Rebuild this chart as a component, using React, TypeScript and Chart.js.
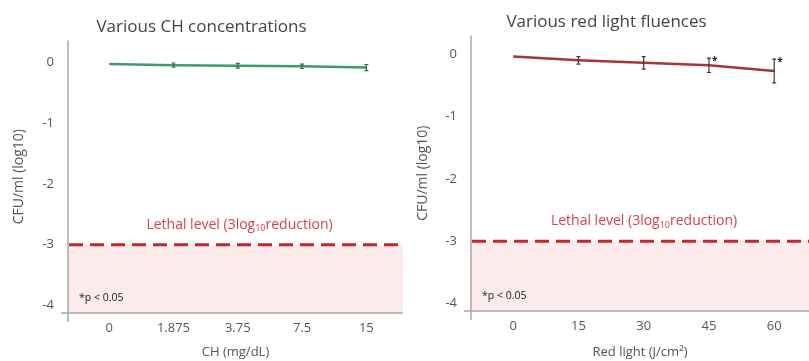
import React, { useEffect, useRef } from 'react';
import { Chart, registerables } from 'chart.js';

Chart.register(...registerables);

// ---- data ----
const chCategories = ['0', '1.875', '3.75', '7.5', '15'];
const chValues = [-0.03, -0.05, -0.06, -0.07, -0.09];
const chErrors = [0, 0.035, 0.04, 0.035, 0.05];
const chSignificant = [false, false, false, false, false];

const lightFluences = [0, 15, 30, 45, 60];
const lightValues = [-0.04, -0.1, -0.14, -0.18, -0.27];
const lightErrors = [0, 0.06, 0.1, 0.115, 0.19];
const lightSignificant = [false, false, false, true, true];

const lethalLevel = -3;
const lethalLabel = ['Lethal level (3log', '10', 'reduction)'];
const pValueNote = '*p < 0.05';
const yAxisTitle = 'CFU/ml (log10)';

const FONT = "'Open Sans', 'DejaVu Sans', sans-serif";

type Cfg = {
  xs: number[];
  ys: number[];
  errs: number[];
  sig: boolean[];
  color: string;
  barColor: string;
  title: string;
  titlePad: { top: number; bottom: number };
  xTitle: string;
  xMin: number;
  xMax: number;
  xStep: number;
  xLabel: (v: number) => string;
  yMin: number;
  yMax: number;
  yAxisWidth: number;
  xAxisHeight: number;
  padRight: number;
};

function makeChart(canvas: HTMLCanvasElement, cfg: Cfg) {
  const decor = {
    id: 'decor',
    beforeDatasetsDraw(chart: any) {
      const { ctx, chartArea: a, scales } = chart;
      const y = scales.y;
      const yl = y.getPixelForValue(lethalLevel);
      ctx.save();
      // pink lethal zone
      ctx.fillStyle = '#fdeaea';
      ctx.fillRect(a.left, yl, a.right - a.left, a.bottom - yl);
      // axes
      ctx.strokeStyle = '#a8a8a8';
      ctx.lineWidth = 1.5;
      ctx.beginPath();
      ctx.moveTo(a.left, a.top);
      ctx.lineTo(a.left, a.bottom + 9);
      ctx.moveTo(a.left - 7, a.bottom);
      ctx.lineTo(a.right, a.bottom);
      ctx.stroke();
      // dashed lethal line
      ctx.strokeStyle = '#c4262e';
      ctx.lineWidth = 3;
      ctx.setLineDash([14, 7]);
      ctx.beginPath();
      ctx.moveTo(a.left + 1, yl);
      ctx.lineTo(a.right, yl);
      ctx.stroke();
      ctx.setLineDash([]);
      // lethal label
      ctx.fillStyle = '#d4414c';
      ctx.textBaseline = 'middle';
      ctx.textAlign = 'left';
      const mainFont = `14px ${FONT}`;
      const subFont = `9px ${FONT}`;
      ctx.font = mainFont;
      const w0 = ctx.measureText(lethalLabel[0]).width;
      const w2 = ctx.measureText(lethalLabel[2]).width;
      ctx.font = subFont;
      const w1 = ctx.measureText(lethalLabel[1]).width;
      const total = w0 + w1 + w2;
      let x = (a.left + a.right) / 2 + 4 - total / 2;
      const ty = yl - 20;
      ctx.font = mainFont;
      ctx.fillText(lethalLabel[0], x, ty);
      x += w0;
      ctx.font = subFont;
      ctx.fillText(lethalLabel[1], x, ty + 4);
      x += w1;
      ctx.font = mainFont;
      ctx.fillText(lethalLabel[2], x, ty);
      // p-value note
      ctx.fillStyle = '#222';
      ctx.font = `10.5px ${FONT}`;
      ctx.fillText(pValueNote, a.left + 11, a.bottom - 15);
      ctx.restore();
    },
    afterDatasetsDraw(chart: any) {
      const { ctx, scales } = chart;
      const xs = scales.x;
      const y = scales.y;
      ctx.save();
      ctx.strokeStyle = cfg.barColor;
      ctx.lineWidth = 1.2;
      cfg.xs.forEach((xv, i) => {
        const e = cfg.errs[i];
        const px = xs.getPixelForValue(xv);
        const top = y.getPixelForValue(cfg.ys[i] + e);
        const bot = y.getPixelForValue(cfg.ys[i] - e);
        if (e > 0) {
          ctx.beginPath();
          ctx.moveTo(px, top);
          ctx.lineTo(px, bot);
          ctx.moveTo(px - 2, top);
          ctx.lineTo(px + 2, top);
          ctx.moveTo(px - 2, bot);
          ctx.lineTo(px + 2, bot);
          ctx.stroke();
        }
        if (cfg.sig[i]) {
          ctx.fillStyle = '#222';
          ctx.font = `bold 10px ${FONT}`;
          ctx.textAlign = 'left';
          ctx.textBaseline = 'middle';
          ctx.fillText('*', px + 3, top + 3);
        }
      });
      ctx.restore();
    },
  };

  return new Chart(canvas, {
    type: 'line',
    data: {
      datasets: [
        {
          data: cfg.xs.map((x, i) => ({ x, y: cfg.ys[i] })),
          borderColor: cfg.color,
          borderWidth: 2.5,
          pointRadius: 0,
          tension: 0,
          fill: false,
        },
      ],
    },
    options: {
      responsive: false,
      animation: false,
      devicePixelRatio: 1,
      layout: { padding: { left: 0, right: cfg.padRight, top: 0, bottom: 0 } },
      plugins: {
        legend: { display: false },
        tooltip: { enabled: false },
        title: {
          display: true,
          text: cfg.title,
          color: '#444',
          font: { family: FONT, size: 17, weight: 'normal' },
          padding: cfg.titlePad,
        },
      },
      scales: {
        x: {
          type: 'linear',
          min: cfg.xMin,
          max: cfg.xMax,
          grid: { display: false, drawTicks: false },
          border: { display: false },
          ticks: {
            stepSize: cfg.xStep,
            includeBounds: false,
            autoSkip: false,
            maxRotation: 0,
            padding: 7,
            color: '#555',
            font: { family: FONT, size: 13 },
            callback: (v: any) => cfg.xLabel(Number(v)),
          },
          title: {
            display: true,
            text: cfg.xTitle,
            color: '#555',
            font: { family: FONT, size: 13 },
            padding: { top: 0, bottom: 1 },
          },
          afterFit: (s: any) => {
            s.height = cfg.xAxisHeight;
          },
        },
        y: {
          type: 'linear',
          min: cfg.yMin,
          max: cfg.yMax,
          grid: { display: false, drawTicks: false },
          border: { display: false },
          ticks: {
            stepSize: 1,
            includeBounds: false,
            padding: 14,
            color: '#555',
            font: { family: FONT, size: 13 },
            callback: (v: any) => (Math.abs(Number(v)) < 1e-9 ? '0' : String(v)),
          },
          title: {
            display: true,
            text: yAxisTitle,
            color: '#555',
            font: { family: FONT, size: 14 },
            padding: { top: 11, bottom: 0 },
          },
          afterFit: (s: any) => {
            s.width = cfg.yAxisWidth;
          },
        },
      },
    },
    plugins: [decor],
  } as any);
}

function ChartPanel({ cfg, left, width }: { cfg: Cfg; left: number; width: number }) {
  const ref = useRef<HTMLCanvasElement | null>(null);
  useEffect(() => {
    if (!ref.current) return;
    const c = makeChart(ref.current, cfg);
    return () => c.destroy();
  }, []);
  return (
    <canvas
      ref={ref}
      width={width}
      height={361}
      style={{ position: 'absolute', left, top: 0, width, height: 361, display: 'block' }}
    />
  );
}

const chCfg: Cfg = {
  xs: chCategories.map((_, i) => i),
  ys: chValues,
  errs: chErrors,
  sig: chSignificant,
  color: '#3f9a6b',
  barColor: '#2f6f4f',
  title: 'Various CH concentrations',
  titlePad: { top: 17, bottom: 3 },
  xTitle: 'CH (mg/dL)',
  xMin: -0.64,
  xMax: 4.57,
  xStep: 1,
  xLabel: (v) => chCategories[Math.round(v)] ?? '',
  yMin: -4.12,
  yMax: 0.356,
  yAxisWidth: 68,
  xAxisHeight: 48,
  padRight: 2,
};

const lightCfg: Cfg = {
  xs: lightFluences,
  ys: lightValues,
  errs: lightErrors,
  sig: lightSignificant,
  color: '#a83535',
  barColor: '#5a2a2a',
  title: 'Various red light fluences',
  titlePad: { top: 12, bottom: 3 },
  xTitle: 'Red light (J/cm\u00B2)',
  xMin: -9.7,
  xMax: 68,
  xStep: 15,
  xLabel: (v) => (lightFluences.includes(v) ? String(v) : ''),
  yMin: -4.12,
  yMax: 0.3,
  yAxisWidth: 67,
  xAxisHeight: 50,
  padRight: 0,
};

export default function App() {
  return (
    <div style={{ position: 'fixed', left: 0, top: 0, width: 809, height: 361, background: '#fff', overflow: 'hidden' }}>
      <ChartPanel cfg={chCfg} left={0} width={405} />
      <ChartPanel cfg={lightCfg} left={404} width={405} />
    </div>
  );
}
